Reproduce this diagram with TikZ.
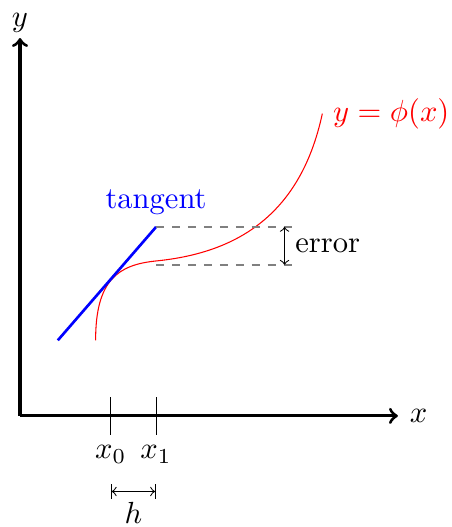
\documentclass[tikz,border=0pt]{standalone}
\usepackage{tikz}
\usetikzlibrary{calc}

\begin{document}
\begin{tikzpicture}[every node/.style={scale=1.15}]
    \useasboundingbox (-0.265,-1.47) rectangle (5.714,5.503);

    % Coordinates
    \coordinate (O) at (0,0);
    \coordinate (X) at (5,0);
    \coordinate (Y) at (0,5);
    \coordinate (A) at (1.2,0);
    \coordinate (B) at (1.8,0);
    \coordinate (T0) at (0.5,1);
    \coordinate (T1) at (1.8,2.5);
    \coordinate (C0) at (1,1);
    \coordinate (K) at (1.8,2.05);
    \coordinate (C1) at (4,4);
    \coordinate (L) at (1.8,2);
    \coordinate (E1) at (3.6,2.5);
    \coordinate (E0) at (3.6,2);

    % Axes
    \draw[very thick, ->] (O) -- (X) node[right] {$x$};
    \draw[very thick, ->] (O) -- (Y) node[above, yshift=-2pt] {$y$};

    % Ticks
    \foreach \p/\t in {A/x_0, B/x_1}
        \draw ($(\p)+(0,0.25)$) -- ($(\p)-(0,0.25)$) node[below] {$\t$};
    \draw[|<->|] ($(A)+(0,-1)$) -- ($(B)+(0,-1)$) node[midway, below] {$h$};

    % Curve and tangent
    \draw[red] (C0) .. controls (1,1.8) and (1.3,2.0) .. (K)
        .. controls (2.8,2.15) and (3.7,2.6) .. (C1) node[right] {$y=\phi(x)$};
    \draw[line width=1pt, blue] (T0) -- (T1) node[above] {tangent};

    % Error
    \draw[thick, dashed, gray] (T1) -- (E1);
    \draw[thick, dashed, gray] (L) -- (E0);
    \draw[<->] ($(E1)+(-0.1,0)$) -- ($(E0)+(-0.1,0)$) node[midway, right] {error};
\end{tikzpicture}
\end{document}
